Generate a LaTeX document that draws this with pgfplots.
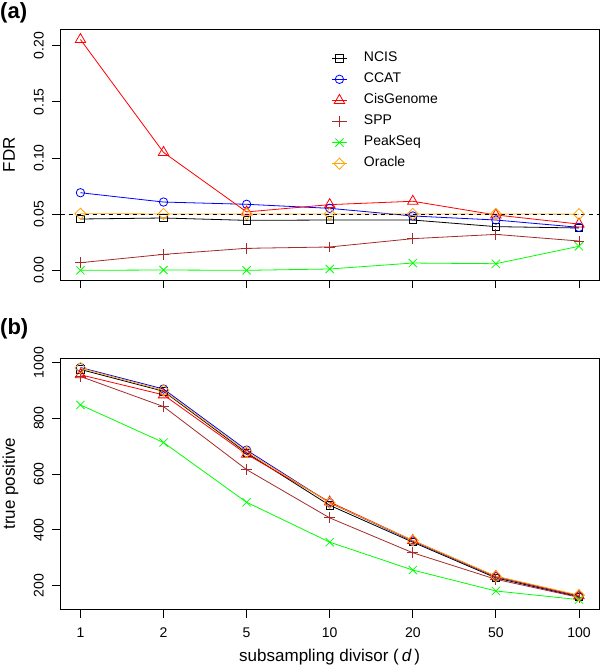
\documentclass[border=0pt]{standalone}
\usepackage{pgfplots}
\pgfplotsset{compat=1.18}
\usepackage{fontspec}
\setmainfont{Liberation Sans}
\definecolor{sppbrown}{RGB}{165,42,42}
\definecolor{rorange}{RGB}{255,165,0}
\definecolor{rgreen}{RGB}{0,255,0}
\definecolor{rblue}{RGB}{0,0,255}
\definecolor{rred}{RGB}{255,0,0}
\pgfplotsset{
  rstyle/.style={
    scale only axis, width=538.4pt,
    xmin=-0.24, xmax=6.24,
    xtick={0,...,6},
    tick align=outside, major tick length=8.5pt,
    tick pos=left,
    axis line style={line width=0.8pt},
    every tick/.style={black, line width=0.8pt},
    tick label style={font=\fontsize{14}{16}\selectfont},
    /pgf/number format/assume math mode=true,
    /pgf/number format/1000 sep={},
    yticklabel style={rotate=90, anchor=south, inner sep=0pt},
    xticklabel style={anchor=north, inner sep=0pt},
    yticklabel shift=8pt,
    xticklabel shift=10pt,
    every axis plot/.append style={line width=0.8pt},
  },
  sNCIS/.style={black, mark=square, mark size=3.7pt},
  sCCAT/.style={rblue, mark=o, mark size=4.2pt},
  sCis/.style={rred, mark=triangle, mark size=6pt},
  sSPP/.style={sppbrown, mark=+, mark size=5.4pt},
  sPeak/.style={rgreen, mark=x, mark size=5.8pt},
  sOracle/.style={rorange, mark=diamond, mark size=5.6pt, mark options={xscale=1.3}},
}
\begin{document}
\begin{tikzpicture}
\path[use as bounding box] (0pt,0pt) rectangle (600pt,670pt);
% ---------------- panel (a)
\begin{axis}[rstyle,
  at={(60.5pt,390pt)}, anchor=south west, height=250.7pt,
  ymin=-0.0086, ymax=0.2146,
  ytick={0,0.05,0.10,0.15,0.20},
  yticklabels={0.00,0.05,0.10,0.15,0.20},
  xticklabels={},
  legend cell align=left,
  legend style={draw=none, fill=none, inner sep=0pt, at={(0.5037,0.9124)}, anchor=north west,
    font=\fontsize{14}{16}\selectfont, row sep=7.6pt, column sep=17pt,
    nodes={inner sep=0pt, text height=10pt, text depth=3.5pt}},
  legend image code/.code={
    \draw[#1] (0pt,0pt) -- (14.3pt,0pt);
    \draw[#1, only marks] plot coordinates {(7.15pt,0pt)};
  },
]
\addplot[sNCIS] coordinates {(0,0.0457) (1,0.0466) (2,0.0445) (3,0.0448) (4,0.0448) (5,0.0389) (6,0.0377)};
\addlegendentry{NCIS}
\addplot[sCCAT] coordinates {(0,0.0691) (1,0.0608) (2,0.0588) (3,0.0552) (4,0.0484) (5,0.0448) (6,0.0383)};
\addlegendentry{CCAT}
\addplot[sCis] coordinates {(0,0.2055) (1,0.1050) (2,0.0520) (3,0.0585) (4,0.0615) (5,0.0493) (6,0.0412)};
\addlegendentry{CisGenome}
\addplot[sSPP] coordinates {(0,0.0068) (1,0.0142) (2,0.0196) (3,0.0208) (4,0.0282) (5,0.0320) (6,0.0261)};
\addlegendentry{SPP}
\addplot[sPeak] coordinates {(0,0.0000) (1,0.0003) (2,0.0000) (3,0.0012) (4,0.0065) (5,0.0059) (6,0.0214)};
\addlegendentry{PeakSeq}
\addplot[sOracle] coordinates {(0,0.0504) (1,0.0502) (2,0.0502) (3,0.0502) (4,0.0502) (5,0.0502) (6,0.0500)};
\addlegendentry{Oracle}
\addplot[black, dash pattern=on 4pt off 4pt, forget plot] coordinates {(-0.24,0.05) (6.24,0.05)};
\end{axis}
% ---------------- panel (b)
\begin{axis}[rstyle,
  at={(60.5pt,60.7pt)}, anchor=south west, height=251pt,
  ymin=115.4, ymax=1015,
  ytick={200,400,600,800,1000},
  xticklabels={1,2,5,10,20,50,100},
]
\addplot[sNCIS] coordinates {(0,975) (1,897) (2,676) (3,488) (4,356) (5,228) (6,160)};
\addplot[sCCAT] coordinates {(0,982) (1,905) (2,686) (3,497) (4,360) (5,232) (6,163)};
\addplot[sCis] coordinates {(0,956) (1,884) (2,671) (3,500) (4,362) (5,233) (6,164)};
\addplot[sSPP] coordinates {(0,950) (1,842) (2,616) (3,443) (4,318) (5,223) (6,158)};
\addplot[sPeak] coordinates {(0,848) (1,713) (2,499) (3,356) (4,256) (5,181) (6,150)};
\addplot[sOracle] coordinates {(0,980) (1,900) (2,680) (3,497) (4,362) (5,234) (6,166)};
\end{axis}
% ---------------- labels
\node[anchor=west, inner sep=0pt, font=\bfseries\fontsize{22}{22}\selectfont] at (0pt,656.7pt) {(a)};
\node[anchor=west, inner sep=0pt, font=\bfseries\fontsize{22}{22}\selectfont] at (0pt,341pt) {(b)};
\node[rotate=90, anchor=base, inner sep=0pt, font=\fontsize{17}{17}\selectfont] at (15pt,515.3pt) {FDR};
\node[rotate=90, anchor=base, inner sep=0pt, font=\fontsize{17}{17}\selectfont] at (15pt,186.2pt) {true positive};
\node[anchor=base, inner sep=0pt, font=\fontsize{17}{17}\selectfont] at (329.7pt,8.3pt) {subsampling divisor (\,\textit{d}\,)};
\end{tikzpicture}
\end{document}
